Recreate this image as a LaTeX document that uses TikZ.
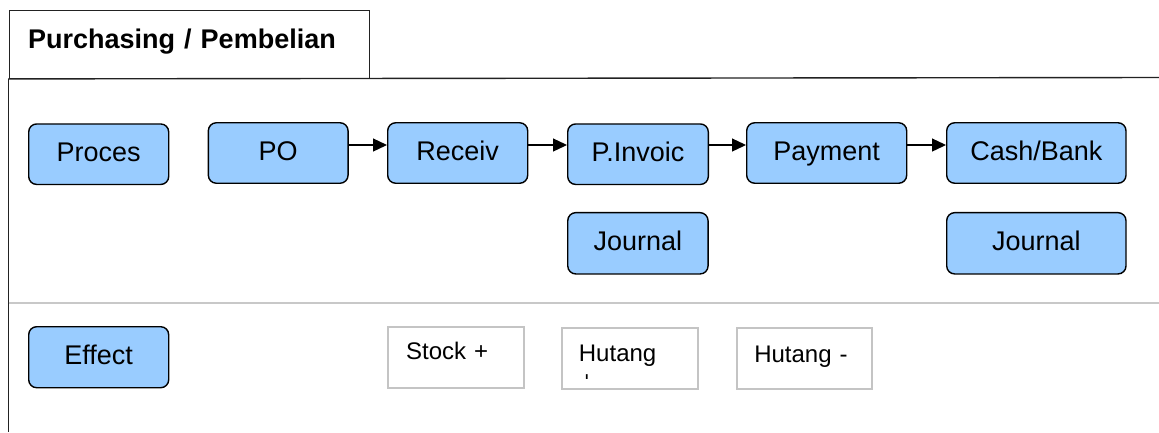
\documentclass[tikz,border=0pt]{standalone}
\usepackage{fontspec}
\setmainfont{Liberation Sans}
\usetikzlibrary{arrows.meta,calc}
\definecolor{procfill}{HTML}{99CCFF}
\definecolor{framecol}{HTML}{222222}
\definecolor{divcol}{HTML}{C8C8C8}
\definecolor{effborder}{HTML}{C4C4C4}
\begin{document}
\begin{tikzpicture}[x=1pt,y=-1pt,
  procbox/.style={draw=black, line width=1.4pt, fill=procfill, rounded corners=8pt,
    minimum height=60.5pt, inner sep=0pt, font=\fontsize{27}{32}\selectfont,
    text height=20pt, text depth=5.7pt},
  effbox/.style={draw=effborder, line width=1.8pt, anchor=north west, inner ysep=0pt,
    align=left, font=\fontsize{24}{27.6}\selectfont},
  framestyle/.style={draw=framecol, line width=1.4pt},
  divline/.style={draw=divcol, line width=1.6pt},
  arr/.style={draw=black, line width=1.3pt, -{Triangle[length=14pt,width=13pt]}}]
\useasboundingbox (0,0) rectangle (1159,432);
% frame
\node[framestyle, anchor=north west, minimum width=360.4pt, minimum height=67.5pt,
  inner xsep=19pt, inner ysep=0pt, text width=322.4pt, align=left,
  text height=37.6pt, text depth=29.9pt, font=\fontsize{27}{32}\selectfont\bfseries]
  (tab) at (8.5,10) {Purchasing / Pembelian};
\coordinate (topright) at (1159,77.5);
\coordinate (leftbottom) at (8.5,432);
\coordinate (divleft) at (8.5,303);
\coordinate (divright) at (1159,303);
\draw[framestyle] (tab.south west) -- (topright);
\draw[framestyle] (tab.south west) -- (leftbottom);
\draw[divline] (divleft) -- (divright);
% process row
\node[procbox, minimum width=140pt] (proces) at (98.7,154.2) {Proces};
\node[procbox, minimum width=139.7pt] (po) at (278.2,153) {PO};
\node[procbox, minimum width=140pt] (rec) at (457.7,153) {Receiv};
\node[procbox, minimum width=140.6pt] (pinv) at (638,154.2) {P.Invoic};
\node[procbox, minimum width=160pt] (pay) at (826.7,153) {Payment};
\node[procbox, minimum width=179.3pt] (cash) at (1036.35,153) {Cash/Bank};
\node[procbox, minimum width=140.3pt, minimum height=61.3pt] (jour1) at (637.9,243.3) {Journal};
\node[procbox, minimum width=179.3pt, minimum height=61.3pt] (jour2) at (1036.35,243.3) {Journal};
% arrows
\draw[arr] ([yshift=8pt]po.east) -- ([yshift=8pt]po.east -| rec.west);
\draw[arr] ([yshift=8pt]rec.east) -- ([yshift=8pt]rec.east -| pinv.west);
\draw[arr] ([yshift=9.2pt]pinv.east) -- ([yshift=9.2pt]pinv.east -| pay.west);
\draw[arr] ([yshift=8pt]pay.east) -- ([yshift=8pt]pay.east -| cash.west);
% effect row
\node[procbox, minimum width=140pt, minimum height=61pt] (effect) at (98.7,357.2) {Effect};
\node[effbox, minimum width=136pt, minimum height=61pt, inner xsep=18.3pt,
  text width=99.4pt, text height=32.2pt, text depth=28.8pt] (stock) at (387,326) {Stock +};
\node[effbox, minimum width=136pt, minimum height=61pt, inner xsep=17pt,
  text width=102pt, text height=33.5pt, text depth=27.5pt] (hutang) at (561,327) {Hutang};
\node[effbox, minimum width=135pt, minimum height=61pt, inner xsep=17.4pt,
  text width=100.2pt, text height=34.5pt, text depth=26.5pt] (hutangmin) at (736,327) {Hutang -};
\begin{scope}
  \clip (hutang.north west) rectangle (697,378);
  \node[anchor=base, inner sep=0pt, font=\fontsize{24}{27.6}\selectfont] (hutangplus) at (587,388) {+};
\end{scope}
\end{tikzpicture}
\end{document}
